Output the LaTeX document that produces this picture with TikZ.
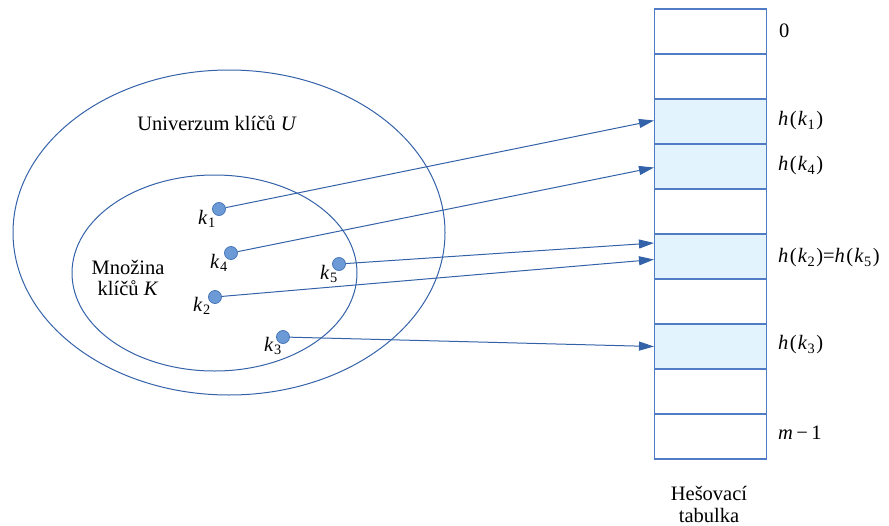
\documentclass[tikz,border=0pt]{standalone}
\usepackage{fontspec}
\setmainfont{Liberation Serif}
\usetikzlibrary{arrows.meta}
\definecolor{edge}{HTML}{3462A8}
\definecolor{dotfill}{HTML}{6C9AD6}
\definecolor{dotline}{HTML}{4A78B8}
\definecolor{cellfill}{HTML}{E2F3FD}
\definecolor{cellline}{HTML}{4F7CC4}
\newcommand{\kk}[1]{\textit{k}\kern0.5pt\textsubscript{#1}}
\newcommand{\hk}[1]{\textit{h}\kern1.5pt(\kern1pt\kk{#1}\kern1pt)}
\begin{document}
\begin{tikzpicture}[x=1pt,y=-1pt,
  every node/.style={font=\fontsize{20.5}{24}\selectfont},
  setline/.style={draw=edge,line width=1pt},
  keydot/.style={circle,fill=dotfill,draw=dotline,line width=0.8pt,inner sep=0pt,minimum size=13pt},
  klabel/.style={inner sep=0pt},
  cell/.style={draw=cellline,line width=1.1pt,minimum width=112pt,minimum height=45pt,inner sep=0pt},
  hit/.style={cell,fill=cellfill},
  slotlabel/.style={anchor=west,inner sep=0pt},
  hasharrow/.style={draw=edge,line width=1pt,-{Triangle[length=15pt,width=9pt]}}]
\useasboundingbox (0,0) rectangle (889,525);

% key universe and the stored subset
\draw[setline] (229,232.5) ellipse [x radius=216, y radius=162.5];
\draw[setline] (214.5,273) ellipse [x radius=142.5, y radius=98];
\node (univ) at (217,123) {Univerzum klíčů \textit{U}};
\node[align=center,inner sep=0pt] (mnoz) at (128,278) {Množina\\[-3pt]klíčů \textit{K}};

% keys
\node[keydot] (k1) at (219,209) {};
\node[keydot] (k4) at (231,253) {};
\node[keydot] (k5) at (339,264) {};
\node[keydot] (k2) at (215,297) {};
\node[keydot] (k3) at (283,337) {};
\node[klabel] (l1) at (207,219) {\kk{1}};
\node[klabel] (l4) at (219,263) {\kk{4}};
\node[klabel] (l5) at (329,274) {\kk{5}};
\node[klabel] (l2) at (202,306) {\kk{2}};
\node[klabel] (l3) at (273,346) {\kk{3}};

% hash table slots
\node[cell] (c0) at (710.5,31.5) {};
\node[cell] (c1) at (710.5,76.5) {};
\node[hit]  (c2) at (710.5,121.5) {};
\node[hit]  (c3) at (710.5,166.5) {};
\node[cell] (c4) at (710.5,211.5) {};
\node[hit]  (c5) at (710.5,256.5) {};
\node[cell] (c6) at (710.5,301.5) {};
\node[hit]  (c7) at (710.5,346.5) {};
\node[cell] (c8) at (710.5,391.5) {};
\node[cell] (c9) at (710.5,436.5) {};

% slot labels
\node[slotlabel] (s0) at (779,31) {0};
\node[slotlabel] (s2) at (778,121) {\hk{1}};
\node[slotlabel] (s3) at (778,166) {\hk{4}};
\node[slotlabel] (s5) at (778,258) {\hk{2}=\hk{5}};
\node[slotlabel] (s7) at (778,345) {\hk{3}};
\node[slotlabel] (s9) at (778,433) {\textit{m}\,−\,1};
\node[align=center,inner sep=0pt] (title) at (709,504) {Hešovací\\[-2pt]tabulka};

% hashing arrows
\coordinate (t2) at ([yshift=1pt]c2.west);
\coordinate (t3) at ([yshift=-1pt]c3.west);
\coordinate (t5a) at ([yshift=13.5pt]c5.west);
\coordinate (t5b) at ([yshift=-3pt]c5.west);
\coordinate (t7) at (c7.west);
\draw[hasharrow] (k1) -- (t2);
\draw[hasharrow] (k4) -- (t3);
\draw[hasharrow] (k5) -- (t5a);
\draw[hasharrow] (k2) -- (t5b);
\draw[hasharrow] (k3) -- (t7);
\end{tikzpicture}
\end{document}
